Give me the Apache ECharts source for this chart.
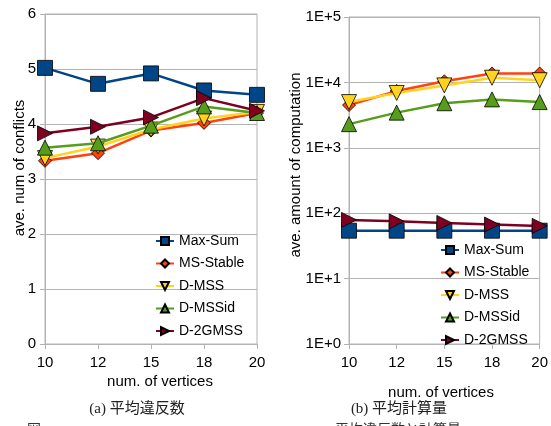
<!DOCTYPE html>
<html><head><meta charset="utf-8">
<script src="https://cdn.jsdelivr.net/npm/echarts@6/dist/echarts.min.js"></script>
<style>html,body{margin:0;padding:0;background:#fff}#c{width:551px;height:426px}</style>
</head><body><div id="c"></div>
<script>
const categories = ['10','12','15','18','20'];
const seriesNames = ['Max-Sum','MS-Stable','D-MSS','D-MSSid','D-2GMSS'];
// (a) average conflicts
const conflictsMaxSum   = [5.02, 4.73, 4.92, 4.61, 4.53];
const conflictsMSStable = [3.33, 3.47, 3.88, 4.02, 4.20];
const conflictsDMSS     = [3.38, 3.59, 3.90, 4.10, 4.22];
const conflictsDMSSid   = [3.57, 3.65, 3.97, 4.32, 4.20];
const conflictsD2GMSS   = [3.83, 3.95, 4.12, 4.47, 4.24];
// (b) average computation (log)
const compMaxSum   = [54, 54, 54, 54, 54];
const compMSStable = [4500, 7400, 10400, 13700, 13700];
const compDMSS     = [5000, 6900, 9000, 11800, 10800];
const compDMSSid   = [2300, 3450, 4800, 5500, 5000];
const compD2GMSS   = [79, 75, 71, 67, 64];
const conflictTicks = [0,1,2,3,4,5,6];
const compTickExp = [0,1,2,3,4,5];

const colors = ['#004586','#ff420e','#ffd320','#579d1c','#7e0021'];
const symbols = ['rect','diamond','triangle','triangle','triangle'];
const rots = [0,0,180,0,-90];
const sizes = [15,13,15,15,15];
const FONT = 'Liberation Sans, Arial, sans-serif';
const gray = '#b3b3b3';

const chart = echarts.init(document.getElementById('c'));
const dataA = [conflictsMaxSum, conflictsMSStable, conflictsDMSS, conflictsDMSSid, conflictsD2GMSS];
const dataB = [compMaxSum, compMSStable, compDMSS, compDMSSid, compD2GMSS];
const series = [];
[dataA, dataB].forEach((set, gi) => {
  set.forEach((d, i) => {
    series.push({
      name: seriesNames[i], type: 'line', xAxisIndex: gi, yAxisIndex: gi,
      data: d, symbol: symbols[i], symbolRotate: rots[i], symbolSize: sizes[i],
      showAllSymbol: true, animation: false,
      lineStyle: {color: colors[i], width: 2.5},
      itemStyle: {color: colors[i], borderColor: '#000', borderWidth: 0.8},
      z: 2 + i
    });
  });
});
const xAxisCommon = {
  type: 'category', data: categories, boundaryGap: false,
  axisLine: {lineStyle: {color: gray}}, axisTick: {show: true, length: 5, lineStyle: {color: gray}},
  axisLabel: {color: '#000', fontSize: 15, fontFamily: FONT, margin: 11},
  splitLine: {show: false}
};
const legendCommon = {
  orient: 'vertical', data: seriesNames, itemWidth: 18, itemHeight: 10,
  textStyle: {color: '#000', fontSize: 14, fontFamily: FONT}, itemGap: 8.5, padding: 0
};
chart.setOption({
  backgroundColor: '#fff',
  animation: false,
  grid: [
    {left: 45, top: 14, width: 212, height: 330, show: true, borderColor: gray, borderWidth: 1},
    {left: 349, top: 17, width: 191, height: 327, show: true, borderColor: gray, borderWidth: 1}
  ],
  xAxis: [Object.assign({gridIndex: 0}, xAxisCommon), Object.assign({gridIndex: 1}, xAxisCommon)],
  yAxis: [
    {gridIndex: 0, type: 'value', min: conflictTicks[0], max: conflictTicks[conflictTicks.length-1], interval: 1,
     axisLine: {show: true, lineStyle: {color: gray}}, axisTick: {show: true, length: 5, lineStyle: {color: gray}},
     axisLabel: {color: '#000', fontSize: 15, fontFamily: FONT, margin: 9},
     splitLine: {lineStyle: {color: gray}}},
    {gridIndex: 1, type: 'log', logBase: 10, min: Math.pow(10, compTickExp[0]), max: Math.pow(10, compTickExp[compTickExp.length-1]),
     axisLine: {show: true, lineStyle: {color: gray}}, axisTick: {show: true, length: 5, lineStyle: {color: gray}},
     axisLabel: {color: '#000', fontSize: 15, fontFamily: FONT, margin: 8,
       formatter: v => '1E+' + Math.round(Math.log10(v))},
     splitLine: {lineStyle: {color: gray}}, minorTick: {show: false}}
  ],
  legend: [
    Object.assign({left: 155, top: 234}, legendCommon),
    Object.assign({left: 440, top: 243}, legendCommon)
  ],
  graphic: [
    {type: 'text', x: 20, y: 168, rotation: Math.PI/2, style: {text: 'ave. num of conflicts', font: '15px ' + FONT, fill: '#000', textAlign: 'center', textVerticalAlign: 'middle'}},
    {type: 'text', x: 296, y: 165, rotation: Math.PI/2, style: {text: 'ave. amount of computation', font: '15px ' + FONT, fill: '#000', textAlign: 'center', textVerticalAlign: 'middle'}},
    {type: 'text', x: 160, y: 382, style: {text: 'num. of vertices', font: '15px ' + FONT, fill: '#000', textAlign: 'center', textVerticalAlign: 'middle'}},
    {type: 'text', x: 441, y: 393, style: {text: 'num. of vertices', font: '15px ' + FONT, fill: '#000', textAlign: 'center', textVerticalAlign: 'middle'}},
    {type: 'text', x: 137, y: 409, style: {text: '(a) 平均違反数', font: '15px "Liberation Serif", "Noto Sans CJK JP", serif', fill: '#222', textAlign: 'center', textVerticalAlign: 'middle'}},
    {type: 'text', x: 399, y: 409, style: {text: '(b) 平均計算量', font: '15px "Liberation Serif", "Noto Sans CJK JP", serif', fill: '#222', textAlign: 'center', textVerticalAlign: 'middle'}},
    {type: 'text', x: 27, y: 422, style: {text: '図', font: '14px "Noto Sans CJK JP"', fill: '#333', textVerticalAlign: 'top'}},
    {type: 'text', x: 335, y: 422, style: {text: '平均違反数と計算量', font: '14px "Noto Sans CJK JP"', fill: '#333', textVerticalAlign: 'top'}}
  ],
  series: series
});
</script></body></html>
